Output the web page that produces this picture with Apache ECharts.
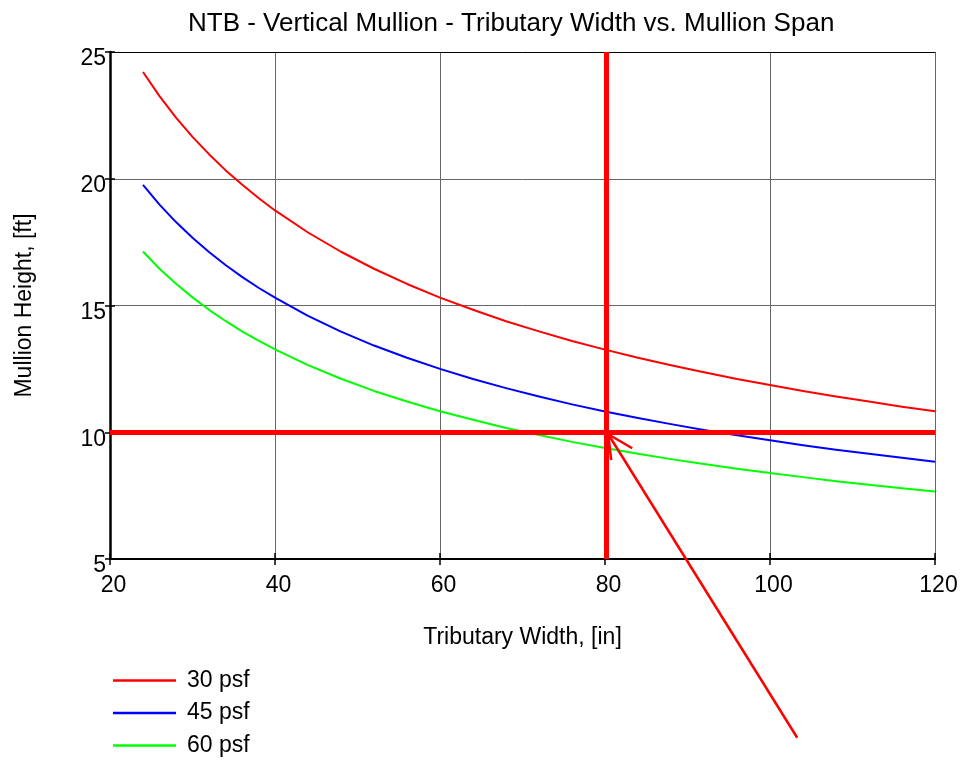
<!DOCTYPE html>
<html>
<head>
<meta charset="utf-8">
<title>NTB - Vertical Mullion</title>
<script src="https://cdn.jsdelivr.net/npm/echarts@6/dist/echarts.min.js"></script>
<style>
  html, body { margin: 0; padding: 0; background: #fff; }
  #chart { width: 964px; height: 760px; }
</style>
</head>
<body>
<div id="chart"></div>
<script>
// tributary width [in]
var widths = [24, 26, 28, 30, 32, 34, 36, 38, 40, 44, 48, 52, 56, 60, 64, 68, 72, 76, 80, 84, 88, 92, 96, 100, 104, 108, 112, 116, 120];
// mullion height [ft]
var psf30 = [24.21, 23.26, 22.41, 21.65, 20.97, 20.34, 19.77, 19.24, 18.75, 17.88, 17.12, 16.45, 15.85, 15.31, 14.83, 14.38, 13.98,
             13.6, 13.26, 12.94, 12.64, 12.37, 12.1, 11.86, 11.63, 11.41, 11.21, 11.01, 10.83];
var psf45 = [19.76, 18.98, 18.29, 17.67, 17.11, 16.6, 16.13, 15.7, 15.31, 14.59, 13.97, 13.42, 12.94, 12.5, 12.1, 11.74, 11.41,
             11.1, 10.82, 10.56, 10.32, 10.09, 9.88, 9.68, 9.49, 9.31, 9.15, 8.99, 8.84];
var psf60 = [17.13, 16.45, 15.86, 15.32, 14.83, 14.39, 13.98, 13.61, 13.27, 12.65, 12.11, 11.63, 11.21, 10.83, 10.49, 10.17, 9.89,
             9.62, 9.38, 9.15, 8.94, 8.75, 8.56, 8.39, 8.23, 8.07, 7.93, 7.79, 7.66];
var seriesNames = ['30 psf', '45 psf', '60 psf'];
var seriesColors = ['#ff0000', '#0000ff', '#00ff00'];

// design point (red cross hair) and the arrow pointing at it
var designWidth = 80.2;
var designHeight = 10;
var arrowTail = [103.3, -2.05];
var arrowTip = [80.4, 9.92];
var arrowHead = [[83.3, 9.37], [80.4, 9.92], [80.75, 8.9]];

var FONT = '"Liberation Sans", Arial, sans-serif';

function pairs(ys) {
  return widths.map(function (x, i) { return [x, ys[i]]; });
}

var chart = echarts.init(document.getElementById('chart'), null, { renderer: 'canvas' });

var axisBase = {
  type: 'value',
  axisLine: { show: false },
  axisTick: { show: false },
  axisLabel: { show: false },
  splitLine: { show: false }
};

var option = {
  animation: false,
  backgroundColor: '#fff',
  title: {
    text: 'NTB - Vertical Mullion - Tributary Width vs. Mullion Span',
    left: 188,
    top: 11,
    padding: 0,
    textStyle: { fontFamily: FONT, fontSize: 26, fontWeight: 'normal', color: '#000' }
  },
  grid: { left: 110, right: 29, top: 52, bottom: 201 },
  legend: {
    orient: 'vertical',
    left: 113,
    top: 669,
    padding: 0,
    icon: 'rect',
    itemWidth: 63,
    itemHeight: 2.5,
    itemGap: 9.5,
    data: seriesNames,
    textStyle: { fontFamily: FONT, fontSize: 23, color: '#000', lineHeight: 23, padding: [0, 0, 0, 6] }
  },
  xAxis: [
    {
      type: 'value',
      min: 20, max: 120, interval: 20,
      name: 'Tributary Width, [in]',
      nameLocation: 'middle',
      nameGap: 67,
      nameTextStyle: { fontFamily: FONT, fontSize: 23, color: '#000' },
      axisLine: { lineStyle: { color: '#000', width: 2 } },
      axisTick: { lineStyle: { color: '#000', width: 1.5 }, length: 6 },
      axisLabel: { fontFamily: FONT, fontSize: 23, color: '#000', margin: 15, padding: [0, 0, 0, 7] },
      splitLine: { lineStyle: { color: '#666', width: 1 } }
    },
    Object.assign({}, axisBase, {
      min: 20, max: 120, interval: 20, position: 'bottom',
      axisTick: { show: true, inside: true, length: 6, lineStyle: { color: '#000', width: 1.5 } }
    }),
    Object.assign({}, axisBase, {
      min: 20, max: 120, interval: 20, position: 'top',
      axisLine: { show: true, lineStyle: { color: '#000', width: 1 } }
    })
  ],
  yAxis: [
    {
      type: 'value',
      min: 5, max: 25, interval: 5,
      name: 'Mullion Height, [ft]',
      nameLocation: 'middle',
      nameGap: 74,
      nameTextStyle: { fontFamily: FONT, fontSize: 23, color: '#000' },
      axisLine: { lineStyle: { color: '#000', width: 2.5 } },
      axisTick: { lineStyle: { color: '#000', width: 1.5 }, length: 5 },
      axisLabel: { fontFamily: FONT, fontSize: 23, color: '#000', margin: 4, verticalAlign: 'top', lineHeight: 14 },
      splitLine: { lineStyle: { color: '#666', width: 1 } }
    },
    Object.assign({}, axisBase, {
      min: 5, max: 25, interval: 5, position: 'left',
      axisTick: { show: true, inside: true, length: 5, lineStyle: { color: '#000', width: 1.5 } }
    })
  ],
  series: [psf30, psf45, psf60].map(function (ys, i) {
    var s = {
      name: seriesNames[i],
      type: 'line',
      smooth: false,
      symbol: 'none',
      color: seriesColors[i],
      lineStyle: { color: seriesColors[i], width: 2, join: 'round' },
      data: pairs(ys),
      z: 3
    };
    if (i === 0) {
      s.markLine = {
        silent: true,
        symbol: 'none',
        label: { show: false },
        lineStyle: { color: '#ff0000', width: 5, type: 'solid' },
        data: [{ xAxis: designWidth }, { yAxis: designHeight }],
        z: 5
      };
    }
    return s;
  })
};

chart.setOption(option);

// arrow lies partly outside the grid, so place it through the axis scales
function px(p) { return chart.convertToPixel({ xAxisIndex: 0, yAxisIndex: 0 }, p); }
var tip = px(arrowTip), tail = px(arrowTail);
chart.setOption({
  graphic: [
    {
      type: 'line', silent: true, z: 10,
      shape: { x1: tail[0], y1: tail[1], x2: tip[0], y2: tip[1] },
      style: { stroke: '#ff0000', lineWidth: 2.5 }
    },
    {
      type: 'polyline', silent: true, z: 10,
      shape: { points: arrowHead.map(px) },
      style: { stroke: '#ff0000', lineWidth: 2.5, fill: null }
    }
  ]
});
</script>
</body>
</html>
